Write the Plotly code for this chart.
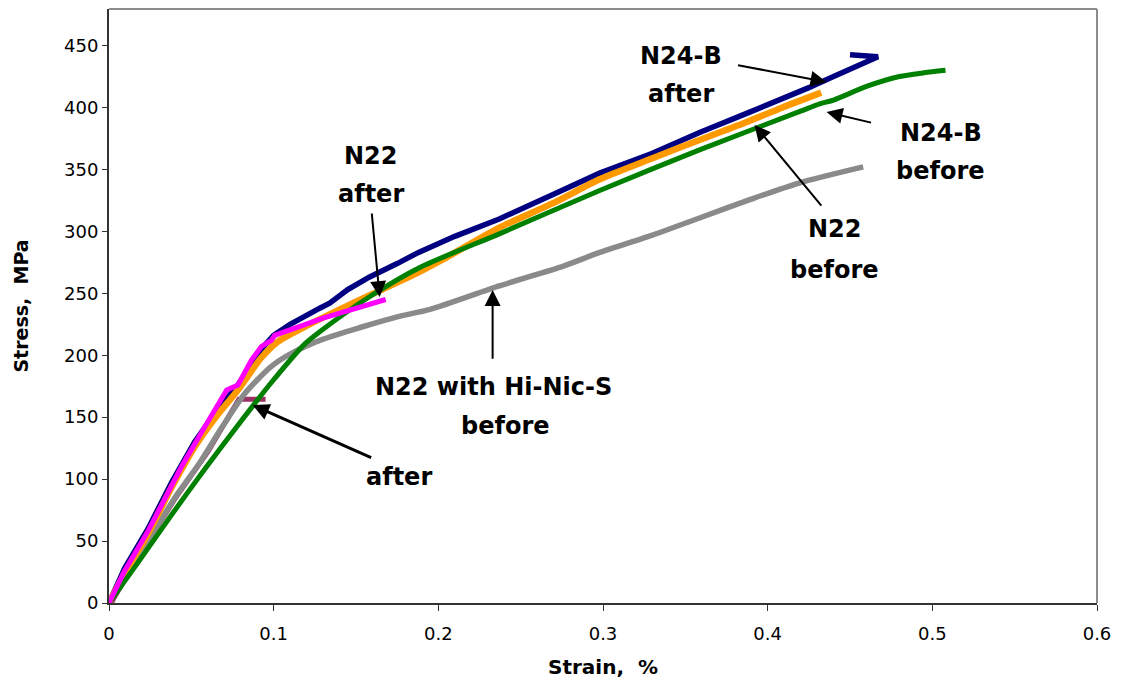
import plotly.graph_objects as go

# ---- data ----
n24b_after_x = [0, 0.0095, 0.0237, 0.0379, 0.052, 0.0642, 0.0783, 0.0925, 0.100, 0.110, 0.128, 0.134, 0.145, 0.158, 0.175,
                0.188, 0.210, 0.237, 0.270, 0.298, 0.330, 0.359, 0.385, 0.409, 0.425, 0.440, 0.455, 0.467, 0.450]
n24b_after_y = [0, 28, 60, 97, 130, 153, 176, 205, 216, 225, 238, 242, 253, 263, 274,
                283, 296, 310, 330, 347, 363, 380, 394, 407, 416, 425, 434, 441, 442.5]

n24b_before_x = [0, 0.0178, 0.0379, 0.0581, 0.0783, 0.0986, 0.1188, 0.128, 0.158, 0.189, 0.237, 0.298, 0.359, 0.420,
                 0.4316, 0.440, 0.460, 0.480, 0.495, 0.508]
n24b_before_y = [0, 33, 71, 108, 143.5, 178, 209, 219, 247, 271, 298, 333, 366, 397,
                 403, 406, 417, 425, 428, 430]

n22_before_x = [0, 0.0095, 0.0237, 0.0379, 0.052, 0.0642, 0.0783, 0.0925, 0.1026, 0.1188, 0.134, 0.164, 0.188, 0.205,
                0.237, 0.270, 0.298, 0.330, 0.359, 0.385, 0.409, 0.4325]
n22_before_y = [0, 24, 56, 93, 126, 149, 172, 198, 211, 223, 233, 252, 267, 279,
                303, 323, 342, 359, 374, 387, 400, 412]

n22_after_x = [0, 0.0095, 0.0237, 0.044, 0.0581, 0.0703, 0.0715, 0.0783, 0.0865, 0.0925, 0.0986, 0.1006, 0.130, 0.168]
n22_after_y = [0, 26, 58, 110, 142, 168, 172, 176, 196, 207, 212, 216, 230, 245]

hinic_before_x = [0, 0.020, 0.040, 0.055, 0.0682, 0.0824, 0.0986, 0.1107, 0.130, 0.154, 0.175, 0.195, 0.237, 0.276,
                  0.298, 0.330, 0.359, 0.390, 0.419, 0.458]
hinic_before_y = [0, 42, 85, 113, 141, 169, 191, 201.5, 213, 223, 231, 237, 256, 272,
                  283, 297, 311, 326, 339, 352]

hinic_after_x = [0, 0.003, 0.020, 0.040, 0.060, 0.075, 0.0789, 0.0951]
hinic_after_y = [-4, 4, 42, 84, 122, 156, 164.5, 164.5]

x_ticks = [0, 0.1, 0.2, 0.3, 0.4, 0.5, 0.6]
y_ticks = [0, 50, 100, 150, 200, 250, 300, 350, 400, 450]

# ---- layout helpers (reference pixel -> data, for annotation placement) ----
X0_PX, X_PER_PX = 109.3, 1 / 1647.0
Y0_PX, Y_PER_PX = 602.7, 0.8078


def dx(px):
    return (px - X0_PX) * X_PER_PX


def dy(py):
    return (Y0_PX - py) * Y_PER_PX


fig = go.Figure()

series = [
    (hinic_after_x, hinic_after_y, "#993366", 5, "linear", "N22 with Hi-Nic-S after"),
    (hinic_before_x, hinic_before_y, "#8a8a8a", 5.5, "spline", "N22 with Hi-Nic-S before"),
    (n24b_after_x, n24b_after_y, "#000080", 5.5, "linear", "N24-B after"),
    (n22_before_x, n22_before_y, "#FF9900", 6.5, "spline", "N22 before"),
    (n24b_before_x, n24b_before_y, "#008000", 5, "spline", "N24-B before"),
    (n22_after_x, n22_after_y, "#FF00FF", 5, "linear", "N22 after"),
]
for xs, ys, col, w, shp, name in series:
    ln = dict(color=col, width=w, shape=shp)
    if shp == "spline":
        ln["smoothing"] = 0.7
    fig.add_trace(go.Scatter(x=xs, y=ys, mode="lines", name=name, line=ln, showlegend=False))

TXT = dict(family="DejaVu Sans", size=24, color="black")
labels = [
    ("<b>N24-B</b>", 681, 56), ("<b>after</b>", 681, 94),
    ("<b>N24-B</b>", 941, 133), ("<b>before</b>", 941, 171),
    ("<b>N22</b>", 835, 229), ("<b>before</b>", 835, 270),
    ("<b>N22</b>", 371, 156), ("<b>after</b>", 371, 194),
    ("<b>N22 with Hi-Nic-S</b>", 494, 387), ("<b>before</b>", 506, 426),
    ("<b>after</b>", 399, 477),
]
anns = []
for t, px, py in labels:
    anns.append(dict(x=dx(px), y=dy(py), xref="x", yref="y", text=t,
                     showarrow=False, font=TXT, xanchor="center", yanchor="middle"))

arrows = [
    ((737, 65), (827, 82), 2),
    ((873, 123), (827, 112), 2),
    ((823, 207), (755, 125), 2),
    ((372, 212), (380, 297), 2),
    ((493, 360), (493, 290), 2),
    ((373, 458), (253, 405), 3),
]
for (tx, ty), (hx, hy), w in arrows:
    anns.append(dict(x=dx(hx), y=dy(hy), ax=dx(tx), ay=dy(ty), xref="x", yref="y",
                     axref="x", ayref="y", text="", showarrow=True, arrowhead=2,
                     arrowsize=1.6 if w == 2 else 1.1, arrowwidth=w, arrowcolor="black"))

# page has an 8px body margin, so the figure is sized/offset to compensate
fig.update_layout(
    width=1105, height=671,
    margin=dict(l=101, r=16, t=1, b=76),
    plot_bgcolor="white", paper_bgcolor="white",
    annotations=anns,
    shapes=[
        dict(type="line", xref="paper", yref="paper", x0=0, x1=1, y0=1, y1=1,
             line=dict(color="#8c8c8c", width=2)),
        dict(type="line", xref="paper", yref="paper", x0=1, x1=1, y0=0, y1=1,
             line=dict(color="#8c8c8c", width=2)),
    ],
)
fig.update_xaxes(range=[0, 0.6], tickvals=x_ticks, ticktext=[("%g" % v) for v in x_ticks],
                 showgrid=False, zeroline=False, showline=True, linecolor="#333333", linewidth=2,
                 ticks="outside", ticklen=6, tickwidth=1, tickcolor="#333333", ticklabelstandoff=7,
                 tickfont=dict(family="DejaVu Sans", size=18, color="black"),
                 title=dict(text="<b>Strain,\u00a0 %</b>", font=dict(family="DejaVu Sans", size=20, color="black"),
                            standoff=18))
fig.update_yaxes(range=[0, 479.5], tickvals=y_ticks,
                 showgrid=False, zeroline=False, showline=True, linecolor="#333333", linewidth=2,
                 ticks="outside", ticklen=5, tickwidth=1, tickcolor="#333333",
                 tickfont=dict(family="DejaVu Sans", size=18, color="black"),
                 title=dict(text="<b>Stress,\u00a0 MPa</b>", font=dict(family="DejaVu Sans", size=19, color="black"),
                            standoff=30))

fig.write_html("out.html")
